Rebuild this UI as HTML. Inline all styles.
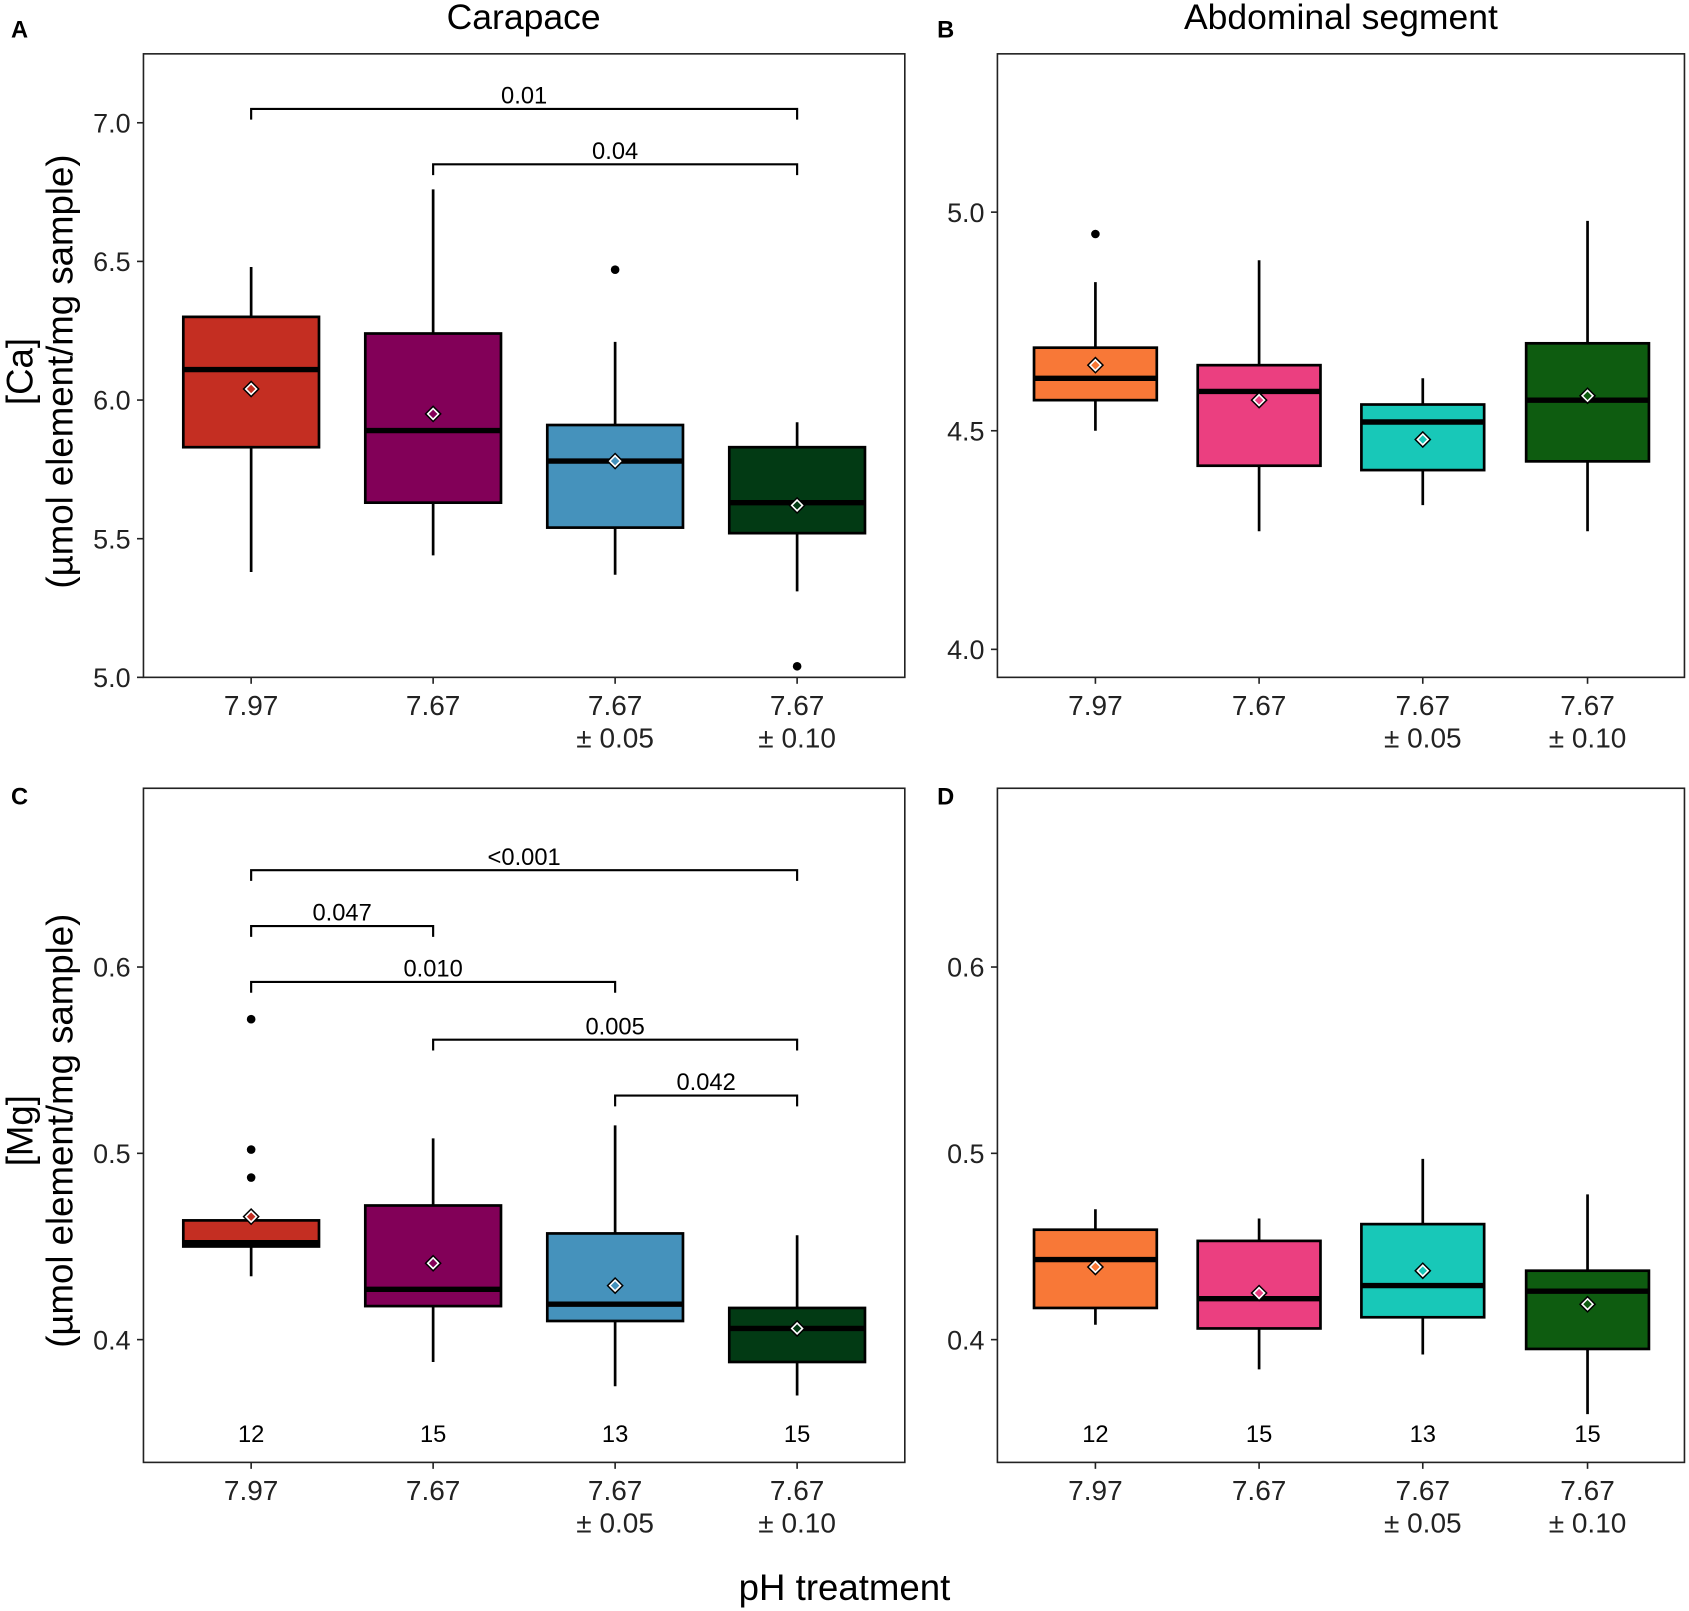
<!DOCTYPE html>
<html><head><meta charset="utf-8"><style>
html,body{margin:0;padding:0;background:#fff}
svg{display:block;font-family:"Liberation Sans",Arial,sans-serif}
</style></head><body>
<svg id="fig" width="1689" height="1611" viewBox="0 0 1568 1496" xmlns="http://www.w3.org/2000/svg">
<rect width="1568" height="1496" fill="#fff"/>
<text x="486" y="27" font-size="33" text-anchor="middle">Carapace</text>
<text x="1245" y="27" font-size="33" text-anchor="middle">Abdominal segment</text>
<text x="784" y="1486" font-size="34" text-anchor="middle">pH treatment</text>
<g transform="translate(30,345) rotate(-90)"><text x="0" y="0" font-size="34" text-anchor="middle">[Ca]</text><text x="0" y="37" font-size="34" text-anchor="middle">(µmol element/mg sample)</text></g>
<g transform="translate(30,1050) rotate(-90)"><text x="0" y="0" font-size="34" text-anchor="middle">[Mg]</text><text x="0" y="37" font-size="34" text-anchor="middle">(µmol element/mg sample)</text></g>
</svg>
<script>
const categories = ["7.97","7.67","7.67|± 0.05","7.67|± 0.10"];
const nCounts = ["12","15","13","15"];
// [whiskerLow, Q1, median, Q3, whiskerHigh, mean]
const caCarapace = [[5.38,5.83,6.11,6.30,6.48,6.04],[5.44,5.63,5.89,6.24,6.76,5.95],[5.37,5.54,5.78,5.91,6.21,5.78],[5.31,5.52,5.63,5.83,5.92,5.62]];
const caCarapaceOut = [[],[],[6.47],[5.04]];
const caAbdomen = [[4.50,4.57,4.62,4.69,4.84,4.65],[4.27,4.42,4.59,4.65,4.89,4.57],[4.33,4.41,4.52,4.56,4.62,4.48],[4.27,4.43,4.57,4.70,4.98,4.58]];
const caAbdomenOut = [[4.95],[],[],[]];
const mgCarapace = [[0.434,0.450,0.452,0.464,0.464,0.466],[0.388,0.418,0.427,0.472,0.508,0.441],[0.375,0.410,0.419,0.457,0.515,0.429],[0.370,0.388,0.406,0.417,0.456,0.406]];
const mgCarapaceOut = [[0.572,0.502,0.487],[],[],[]];
const mgAbdomen = [[0.408,0.417,0.443,0.459,0.470,0.439],[0.384,0.406,0.422,0.453,0.465,0.425],[0.392,0.412,0.429,0.462,0.497,0.437],[0.360,0.395,0.426,0.437,0.478,0.419]];
const mgAbdomenOut = [[],[],[],[]];
const caTicksA = [5.0,5.5,6.0,6.5,7.0];
const caTicksB = [4.0,4.5,5.0];
const mgTicks = [0.4,0.5,0.6];
const bracketsA = [[0,3,7.05,"0.01"],[1,3,6.85,"0.04"]];
const bracketsC = [[0,3,0.652,"<0.001"],[0,1,0.622,"0.047"],[0,2,0.592,"0.010"],[1,3,0.561,"0.005"],[2,3,0.531,"0.042"]];
const colorsLeft = ["#c42e22","#820058","#4592bc","#023a14"];
const colorsRight = ["#f87837","#eb3f80","#18c8b8","#0e5c10"];

const NS="http://www.w3.org/2000/svg", svg=document.getElementById('fig');
function mk(tag,attrs,parent){const e=document.createElementNS(NS,tag);for(const k in attrs)e.setAttribute(k,attrs[k]);(parent||svg).appendChild(e);return e;}
function panel(o){
  const g=mk('g',{});
  
  
  const y=v=>o.y0+(v-o.v0)*(o.y1-o.y0)/(o.v1-o.v0);
  const x=i=>o.xs[i];
  const fr=mk('rect',{x:o.L,y:o.T,width:o.R-o.L,height:o.B-o.T,fill:'none',stroke:'#222','stroke-width':1.5},g);
  
  
  const lt=mk('text',{x:o.lx,y:o.ly,'font-size':22,'font-weight':'bold'},g);lt.textContent=o.letter;
  
  
  o.ticks.forEach(t=>{const yy=y(t);mk('line',{x1:o.L-6,x2:o.L,y1:yy,y2:yy,stroke:'#222','stroke-width':1.5},g);
    const tx=mk('text',{x:o.L-12,y:yy+9,'font-size':25,'text-anchor':'end',fill:'#222'},g);tx.textContent=t.toFixed(o.dec);
    
    });
  categories.forEach((c,i)=>{mk('line',{x1:x(i),x2:x(i),y1:o.B,y2:o.B+6,stroke:'#222','stroke-width':1.5},g);
    c.split('|').forEach((s,j)=>{const tx=mk('text',{x:x(i),y:o.B+35+j*30,'font-size':26,'text-anchor':'middle',fill:'#222'},g);tx.textContent=s;
      
      });});
  o.data.forEach((d,i)=>{
    const cx=x(i),hw=o.hw;
    const bg=mk('g',{},g);
    
    
    mk('line',{x1:cx,x2:cx,y1:y(d[0]),y2:y(d[4]),stroke:'#000','stroke-width':2.5},bg);
    mk('rect',{x:cx-hw,y:y(d[3]),width:2*hw,height:y(d[1])-y(d[3]),fill:o.colors[i],stroke:'#000','stroke-width':2.5},bg);
    mk('line',{x1:cx-hw,x2:cx+hw,y1:y(d[2]),y2:y(d[2]),stroke:'#000','stroke-width':5},bg);
    const m=y(d[5]);
    mk('path',{d:`M${cx} ${m-8}L${cx+8} ${m}L${cx} ${m+8}L${cx-8} ${m}Z`,fill:'#000'},bg);
    mk('path',{d:`M${cx} ${m-5}L${cx+5} ${m}L${cx} ${m+5}L${cx-5} ${m}Z`,fill:o.colors[i],stroke:'#fff','stroke-width':1.5},bg);
    o.out[i].forEach(v=>{const p=mk('circle',{cx:cx,cy:y(v),r:4,fill:'#000'},bg);
      
      });
    if(o.n){const t=mk('text',{x:cx,y:o.B-19,'font-size':22,'text-anchor':'middle'},g);t.textContent=nCounts[i];
      
      }
  });
  (o.brackets||[]).forEach(b=>{const yy=y(b[2]);
    const bk=mk('path',{d:`M${x(b[0])} ${yy+10}V${yy}H${x(b[1])}V${yy+10}`,fill:'none',stroke:'#000','stroke-width':2},g);
    
    
    const t=mk('text',{x:(x(b[0])+x(b[1]))/2,y:yy-5,'font-size':22,'text-anchor':'middle'},g);t.textContent=b[3];
    
    });
}
panel({name:'panel-a-carapace-ca',letter:'A',lx:10,ly:35,L:133,R:840,T:50,B:629,v0:5.0,y0:629,v1:7.0,y1:114,xs:[233,402,571,740],hw:63,ticks:caTicksA,dec:1,data:caCarapace,out:caCarapaceOut,colors:colorsLeft,brackets:bracketsA});
panel({name:'panel-b-abdomen-ca',letter:'B',lx:870,ly:35,L:926,R:1564,T:50,B:629,v0:4.0,y0:603,v1:5.0,y1:197,xs:[1017,1169,1321,1474],hw:57,ticks:caTicksB,dec:1,data:caAbdomen,out:caAbdomenOut,colors:colorsRight});
panel({name:'panel-c-carapace-mg',letter:'C',lx:10,ly:747,L:133,R:840,T:732,B:1358,v0:0.4,y0:1244,v1:0.6,y1:898,xs:[233,402,571,740],hw:63,ticks:mgTicks,dec:1,data:mgCarapace,out:mgCarapaceOut,colors:colorsLeft,brackets:bracketsC,n:true});
panel({name:'panel-d-abdomen-mg',letter:'D',lx:870,ly:747,L:926,R:1564,T:732,B:1358,v0:0.4,y0:1244,v1:0.6,y1:898,xs:[1017,1169,1321,1474],hw:57,ticks:mgTicks,dec:1,data:mgAbdomen,out:mgAbdomenOut,colors:colorsRight,n:true});
</script>
</body></html>
